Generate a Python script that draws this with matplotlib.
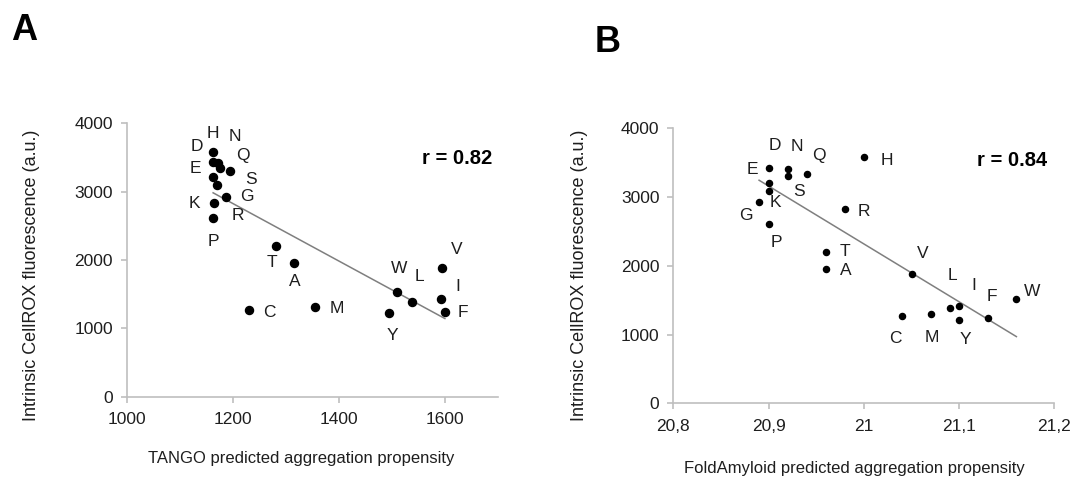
import numpy as np
import matplotlib
matplotlib.use('Agg')
import matplotlib.pyplot as plt
from matplotlib.ticker import FuncFormatter

plt.rcParams['font.family'] = ['Liberation Sans', 'DejaVu Sans']

# amino acids and CellROX fluorescence (same for both panels)
residues = ['H', 'D', 'N', 'Q', 'S', 'E', 'K', 'G', 'R', 'P',
            'T', 'A', 'C', 'M', 'W', 'L', 'Y', 'V', 'I', 'F']
fluo = [3585, 3429, 3415, 3342, 3306, 3210, 3097, 2926, 2830, 2610,
        2205, 1960, 1268, 1308, 1527, 1390, 1220, 1879, 1425, 1239]

# panel A: TANGO score
tango = [1163, 1163, 1173, 1176, 1195, 1163, 1170, 1187, 1165, 1163,
         1281, 1315, 1231, 1355, 1509, 1538, 1494, 1595, 1592, 1600]
# panel B: FoldAmyloid score
foldamyloid = [21.00, 20.90, 20.92, 20.94, 20.92, 20.90, 20.90, 20.89, 20.98, 20.90,
               20.96, 20.96, 21.04, 21.07, 21.16, 21.09, 21.10, 21.05, 21.10, 21.13]

# label offsets (pixels) from each point
offs_a = [(0, 18), (-16, 16), (16, 27), (23, 13), (21, -9), (-18, 9), (-22, -18),
          (21, 0), (24, -12), (0, -23), (-4, -16), (1, -19), (20, -2), (22, -1),
          (2, 24), (7, 25), (4, -22), (14, 19), (17, 13), (18, 0)]
offs_b = [(23, -3), (6, 22), (9, 22), (12, 18), (11, -15), (-16, 13), (7, -12),
          (-13, -13), (19, -3), (8, -18), (19, 0), (20, -2), (-7, -22), (1, -24),
          (16, 7), (3, 32), (6, -20), (11, 21), (15, 20), (4, 22)]

txt = '#1e1e1e'
grey = '#bfbfbf'

fig = plt.figure(figsize=(10.78, 4.8), dpi=100)
axA = fig.add_axes([0.1175, 0.1735, 0.3444, 0.5696])
axB = fig.add_axes([0.6246, 0.1594, 0.3536, 0.5729])


def style_ax(ax):
    for s in ['top', 'right']:
        ax.spines[s].set_visible(False)
    for s in ['left', 'bottom']:
        ax.spines[s].set_color(grey)
        ax.spines[s].set_linewidth(1.2)
    ax.tick_params(axis='both', direction='out', length=4, width=1.2, color=grey,
                   labelsize=12.5, labelcolor=txt)
    ax.tick_params(axis='y', pad=6)
    ax.tick_params(axis='x', pad=7)


def draw(ax, x, offs, ms):
    x = np.array(x)
    y = np.array(fluo)
    k, b = np.polyfit(x, y, 1)
    xs = np.array([x.min(), x.max()])
    ax.plot(xs, k * xs + b, color='#7f7f7f', lw=1.1, zorder=2)
    ax.plot(x, y, 'o', color='black', ms=ms, zorder=3)
    for name, xi, yi, o in zip(residues, x, y, offs):
        ax.annotate(name, (xi, yi), xytext=o, textcoords='offset pixels',
                    ha='center', va='center', fontsize=12.5, color=txt)


style_ax(axA)
draw(axA, tango, offs_a, 5.8)
axA.set_xlim(1000, 1700)
axA.set_ylim(0, 4000)
axA.set_xticks([1000, 1200, 1400, 1600])
axA.set_yticks([0, 1000, 2000, 3000, 4000])
axA.text(1690, 3490, 'r = 0.82', ha='right', va='center', fontsize=14.5,
         fontweight='bold', color='black')

style_ax(axB)
draw(axB, foldamyloid, offs_b, 4.4)
axB.set_xlim(20.8, 21.2)
axB.set_ylim(0, 4000)
axB.set_xticks([20.8, 20.9, 21.0, 21.1, 21.2])
axB.set_yticks([0, 1000, 2000, 3000, 4000])
axB.xaxis.set_major_formatter(FuncFormatter(lambda v, p: '{:g}'.format(round(v, 2)).replace('.', ',')))
axB.text(21.192, 3540, 'r = 0.84', ha='right', va='center', fontsize=14.5,
         fontweight='bold', color='black')

# axis titles
fig.text(301 / 1078, 1 - 458 / 480, 'TANGO predicted aggregation propensity',
         ha='center', va='center', fontsize=12, color=txt)
fig.text(854 / 1078, 1 - 468 / 480, 'FoldAmyloid predicted aggregation propensity',
         ha='center', va='center', fontsize=12, color=txt)
fig.text(32 / 1078, 1 - 275 / 480, 'Intrinsic CellROX fluorescence (a.u.)',
         rotation=90, ha='center', va='center', fontsize=13, color=txt)
fig.text(580 / 1078, 1 - 275 / 480, 'Intrinsic CellROX fluorescence (a.u.)',
         rotation=90, ha='center', va='center', fontsize=13, color=txt)

# panel letters
fig.text(24 / 1078, 1 - 30 / 480, 'A', ha='center', va='center', fontsize=26,
         fontweight='bold', family=['Liberation Sans Narrow', 'Liberation Sans'])
fig.text(608 / 1078, 1 - 42 / 480, 'B', ha='center', va='center', fontsize=26,
         fontweight='bold', family=['Liberation Sans Narrow', 'Liberation Sans'])

fig.savefig('out.png', dpi=100, facecolor='white')
